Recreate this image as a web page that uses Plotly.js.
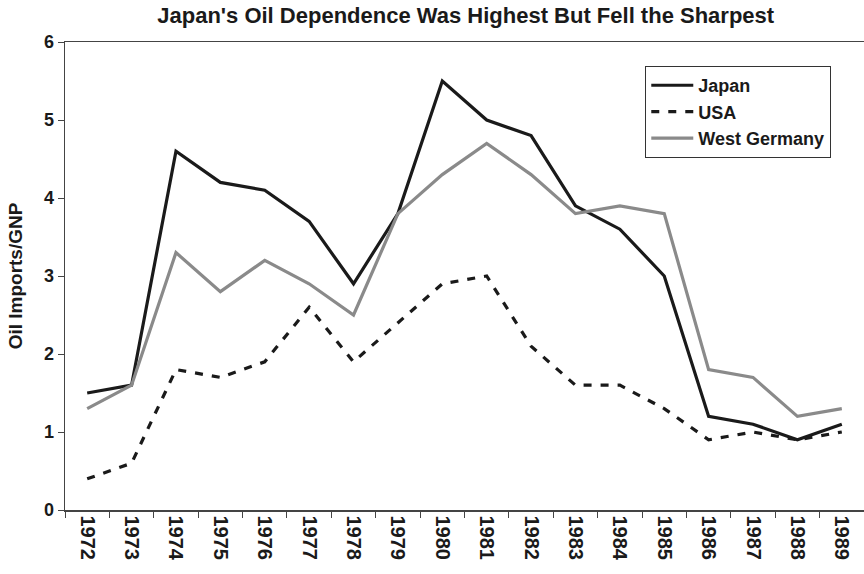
<!DOCTYPE html>
<html><head><meta charset="utf-8">
<script src="https://cdn.plot.ly/plotly-3.0.1.min.js"></script>
<style>html,body{margin:0;padding:0;background:#fff}#chart{width:864px;height:574px}</style>
</head><body><div id="chart"></div>
<script>
const years = ['1972','1973','1974','1975','1976','1977','1978','1979','1980','1981','1982','1983','1984','1985','1986','1987','1988','1989'];
const japan = [1.5,1.6,4.6,4.2,4.1,3.7,2.9,3.8,5.5,5.0,4.8,3.9,3.6,3.0,1.2,1.1,0.9,1.1];
const usa = [0.4,0.6,1.8,1.7,1.9,2.6,1.9,2.4,2.9,3.0,2.1,1.6,1.6,1.3,0.9,1.0,0.9,1.0];
const germany = [1.3,1.6,3.3,2.8,3.2,2.9,2.5,3.8,4.3,4.7,4.3,3.8,3.9,3.8,1.8,1.7,1.2,1.3];

const traces = [
  {x: years, y: japan, name: 'Japan', mode: 'lines', line: {color: '#1a1a1a', width: 3.2}},
  {x: years, y: usa, name: 'USA', mode: 'lines', line: {color: '#1a1a1a', width: 3.2, dash: '8px,9px'}},
  {x: years, y: germany, name: 'West Germany', mode: 'lines', line: {color: '#8a8a8a', width: 3.2}}
];
const ff = 'Liberation Sans, Arial, sans-serif';
const layout = {
  width: 864, height: 574,
  margin: {l: 65, r: 0, t: 42, b: 64},
  paper_bgcolor: '#fff', plot_bgcolor: '#fff',
  font: {family: ff, color: '#1a1a1a'},
  title: {text: "<b>Japan's Oil Dependence Was Highest But Fell the Sharpest</b>", font: {family: ff, size: 22, color: '#1a1a1a'}, x: 0.539, xanchor: 'center', y: 0.974, yanchor: 'middle'},
  xaxis: {type: 'category', range: [-0.5, 17.5], tickangle: 90, tickson: 'boundaries', ticks: 'outside', ticklen: 6, tickcolor: '#444', showline: true, linecolor: '#444', linewidth: 1.5, mirror: true, showgrid: false, zeroline: false, tickfont: {family: ff, size: 20, color: '#1a1a1a', weight: 'bold'}, fixedrange: true},
  yaxis: {range: [0, 6], dtick: 1, ticks: 'outside', ticklen: 6, tickcolor: '#444', showline: true, linecolor: '#444', linewidth: 1.5, showgrid: false, zeroline: false, tickfont: {family: ff, size: 18, color: '#1a1a1a', weight: 'bold'}, title: {text: '<b>Oil Imports/GNP</b>', font: {family: ff, size: 19, color: '#1a1a1a'}, standoff: 16}},
  legend: {x: 0.726, y: 0.949, xanchor: 'left', yanchor: 'top', bordercolor: '#333', borderwidth: 1.2, bgcolor: '#fff', itemwidth: 42, font: {family: ff, size: 18, color: '#1a1a1a', weight: 'bold'}, tracegroupgap: 0},
  showlegend: true
};
Plotly.newPlot('chart', traces, layout, {displayModeBar: false, staticPlot: true});
</script></body></html>
